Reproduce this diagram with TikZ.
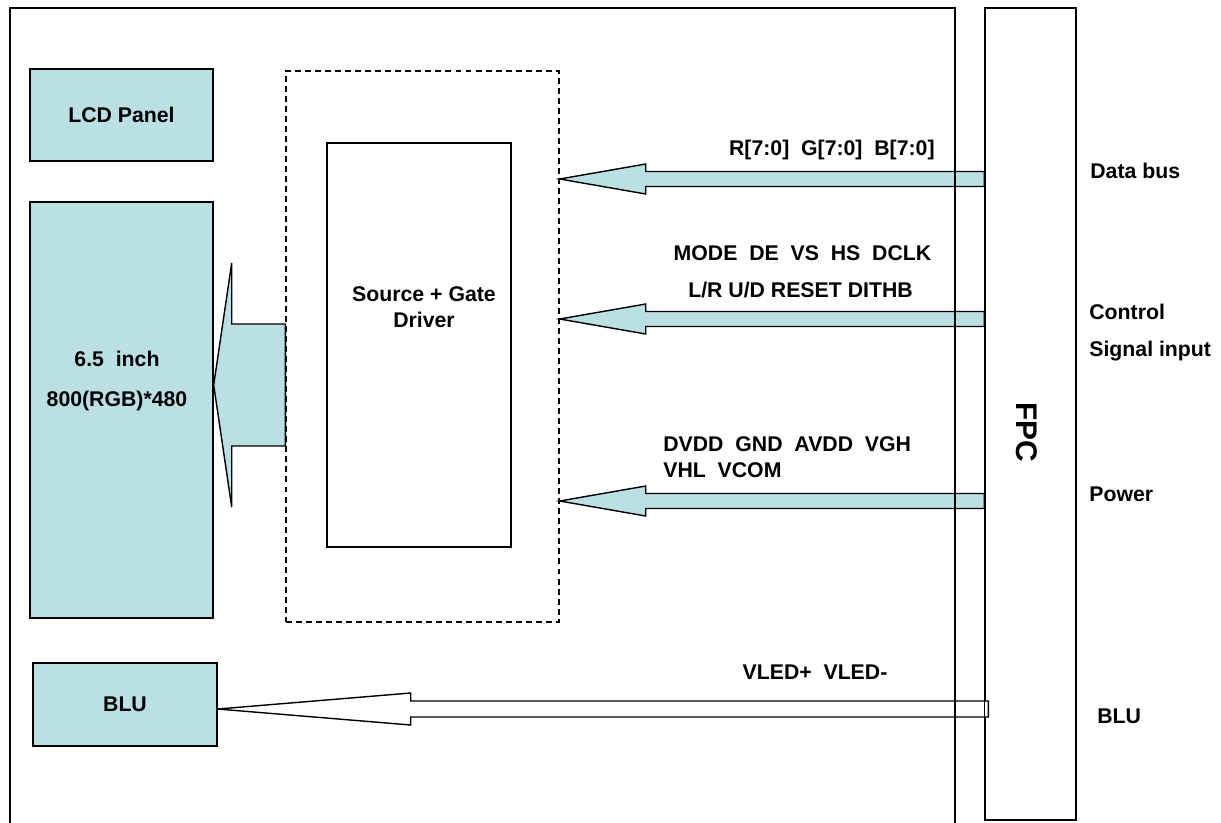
\documentclass[tikz,border=0pt]{standalone}
\usepackage{fontspec}
\setmainfont{Liberation Sans}
\usetikzlibrary{calc,positioning}
\definecolor{lcdcyan}{HTML}{BBE0E3}

\begin{document}
\begin{tikzpicture}[every node/.style={font=\fontsize{12.1}{14.8}\selectfont\bfseries,inner sep=0pt},
  blk/.style={draw,line width=0.8pt,fill=lcdcyan},
  plain/.style={draw,line width=0.8pt},
  busfill/.style={draw,line width=0.8pt,fill=lcdcyan}]
  \useasboundingbox (0,0) rectangle (24.42,-16.44);
  % left blocks
  \node[blk,minimum width=3.66cm,minimum height=1.84cm] (lcd) at (2.43,-2.30) {LCD Panel};
  \node[blk,minimum width=3.66cm,minimum height=8.32cm] (panel) at (2.43,-8.20) {};
  \node[align=center] (paneltxt) at (2.34,-7.62) {6.5\ \ inch\\[8pt]800(RGB)*480};
  \node[blk,minimum width=3.68cm,minimum height=1.66cm] (blu) at (2.50,-14.09) {BLU};
  % driver
  \node[plain,dash pattern=on 3.4pt off 2.3pt,minimum width=5.46cm,minimum height=11.02cm] (zone) at (8.45,-6.93) {};
  \node[plain,minimum width=3.68cm,minimum height=8.08cm] (drv) at (8.38,-6.90) {};
  \node[align=center] (drvtxt) at (8.48,-6.14) {Source + Gate\\Driver};
  % FPC
  \node[plain,minimum width=1.82cm,minimum height=16.24cm] (fpc) at (20.61,-8.28) {};
  \node[rotate=-90,font=\fontsize{17}{20}\selectfont\bfseries] (fpctxt) at (20.54,-8.64) {FPC};
  % arrow driver -> panel
  \coordinate (ptip) at (panel.east |- 0,-7.70);
  \filldraw[busfill] (ptip) -- ++(0.36,2.44) -- ++(0,-1.22) -- ($(zone.west |- ptip)+(0,1.22)$)
    -- ++(0,-2.44) -- ($(ptip)+(0.36,-1.22)$) -- ++(0,-1.22) -- cycle;
  % bus arrows
  \foreach \yy/\nm in {-3.58/data,-6.38/ctrl,-10.02/pwr} {
    \coordinate (\nm) at (zone.east |- 0,\yy);
    \filldraw[busfill] (\nm) -- ++(1.72,0.30) -- ++(0,-0.15) -- ($(fpc.west |- \nm)+(0,0.15)$)
      -- ++(0,-0.30) -- ($(\nm)+(1.72,-0.15)$) -- ++(0,-0.15) -- cycle;
  }
  % backlight arrow
  \coordinate (btip) at (blu.east |- 0,-14.18);
  \filldraw[plain,fill=white] (btip) -- ++(3.86,0.32) -- ++(0,-0.16) -- ($(fpc.west |- btip)+(0.08,0.16)$)
    -- ++(0,-0.32) -- ($(btip)+(3.86,-0.16)$) -- ++(0,-0.16) -- cycle;
  % frames on top
  \draw[line width=0.8pt] (fpc.north west) -- (fpc.south west);
  \draw[line width=0.8pt] (0.2,-16.6) |- (19.1,-0.16) -- (19.1,-16.6);
  % labels
  \node[anchor=east] (datalbl) at (18.70,-3.00) {R[7:0]\ \ G[7:0]\ \ B[7:0]};
  \node (ctrl1) at (16.05,-5.06) {MODE\ \ DE\ \ VS\ \ HS\ \ DCLK};
  \node (ctrl2) at (16.01,-5.80) {L/R U/D RESET DITHB};
  \node[anchor=west] (pwr1) at (13.26,-8.88) {DVDD\ \ GND\ \ AVDD\ \ VGH};
  \node[anchor=west] (pwr2) at (13.26,-9.40) {VHL\ \ VCOM};
  \node (blulbl) at (16.30,-13.44) {VLED+\ \ VLED-};
  \node[anchor=west] (rdata) at (21.80,-3.42) {Data bus};
  \node[anchor=west] (rctrl) at (21.78,-6.24) {Control};
  \node[anchor=west] (rsig) at (21.78,-7.02) {Signal input};
  \node[anchor=west] (rpwr) at (21.78,-9.88) {Power};
  \node[anchor=west] (rblu) at (21.94,-14.32) {BLU};
\end{tikzpicture}
\end{document}
